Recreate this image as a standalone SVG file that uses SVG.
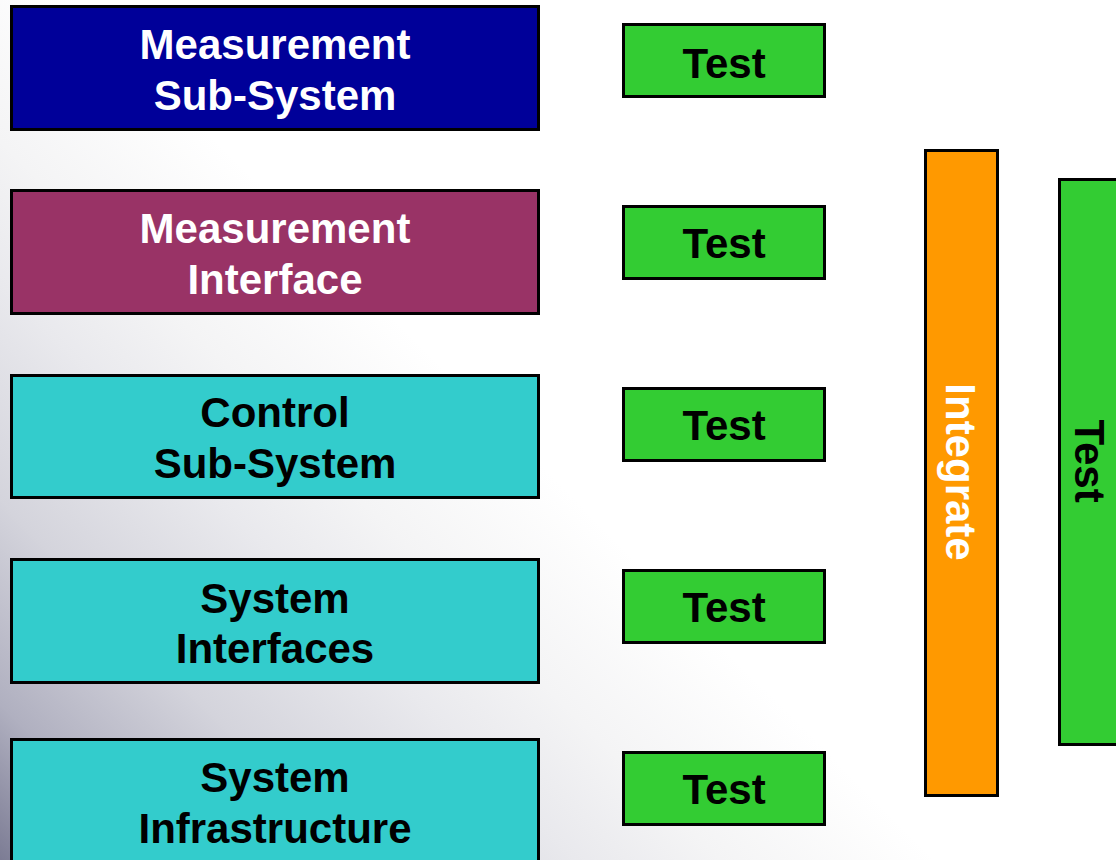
<svg xmlns="http://www.w3.org/2000/svg" width="1116" height="860" viewBox="0 0 1116 860">
<style>
.box{stroke:#000;stroke-width:3}
.t{font-family:"Liberation Sans",Arial,sans-serif;font-weight:bold;font-size:42px;text-anchor:middle}
.w{fill:#fff}
.k{fill:#000}
</style>
<defs>
<linearGradient id="bg" gradientUnits="userSpaceOnUse" x1="0" y1="860" x2="600" y2="260">
<stop offset="0" stop-color="#7c7c94"/>
<stop offset="0.13" stop-color="#b0b0c0"/>
<stop offset="0.3" stop-color="#d4d4dc"/>
<stop offset="0.48" stop-color="#e9e9ed"/>
<stop offset="0.6" stop-color="#f4f4f5"/>
<stop offset="0.78" stop-color="#ffffff"/>
</linearGradient>
</defs>
<rect width="1116" height="860" fill="url(#bg)"/>
<g id="measurement-subsystem">
<rect class="box" x="11.5" y="6.5" width="527" height="123" fill="#000099"/>
<text class="t w" x="275" y="59">Measurement</text>
<text class="t w" x="275" y="110">Sub-System</text>
</g>
<g id="measurement-interface">
<rect class="box" x="11.5" y="190.5" width="527" height="123" fill="#993366"/>
<text class="t w" x="275" y="243">Measurement</text>
<text class="t w" x="275" y="294">Interface</text>
</g>
<g id="control-subsystem">
<rect class="box" x="11.5" y="375.5" width="527" height="122" fill="#33cccc"/>
<text class="t k" x="275" y="427">Control</text>
<text class="t k" x="275" y="478">Sub-System</text>
</g>
<g id="system-interfaces">
<rect class="box" x="11.5" y="559.5" width="527" height="123" fill="#33cccc"/>
<text class="t k" x="275" y="613">System</text>
<text class="t k" x="275" y="663">Interfaces</text>
</g>
<g id="system-infrastructure">
<rect class="box" x="11.5" y="739.5" width="527" height="130" fill="#33cccc"/>
<text class="t k" x="275" y="792">System</text>
<text class="t k" x="275" y="843">Infrastructure</text>
</g>
<g id="test1">
<rect class="box" x="623.5" y="24.5" width="201" height="72" fill="#33cc33"/>
<text class="t k" x="724" y="78">Test</text>
</g>
<g id="test2">
<rect class="box" x="623.5" y="206.5" width="201" height="72" fill="#33cc33"/>
<text class="t k" x="724" y="258">Test</text>
</g>
<g id="test3">
<rect class="box" x="623.5" y="388.5" width="201" height="72" fill="#33cc33"/>
<text class="t k" x="724" y="440">Test</text>
</g>
<g id="test4">
<rect class="box" x="623.5" y="570.5" width="201" height="72" fill="#33cc33"/>
<text class="t k" x="724" y="622">Test</text>
</g>
<g id="test5">
<rect class="box" x="623.5" y="752.5" width="201" height="72" fill="#33cc33"/>
<text class="t k" x="724" y="804">Test</text>
</g>
<g id="integrate">
<rect class="box" x="925.5" y="150.5" width="72" height="645" fill="#ff9900"/>
<text class="t w" transform="translate(946,472) rotate(90)" x="0" y="0">Integrate</text>
</g>
<g id="system-test">
<rect class="box" x="1059.5" y="179.5" width="72" height="565" fill="#33cc33"/>
<text class="t k" transform="translate(1075,461) rotate(90)" x="0" y="0">Test</text>
</g>
<g id="connectors"></g>
</svg>
